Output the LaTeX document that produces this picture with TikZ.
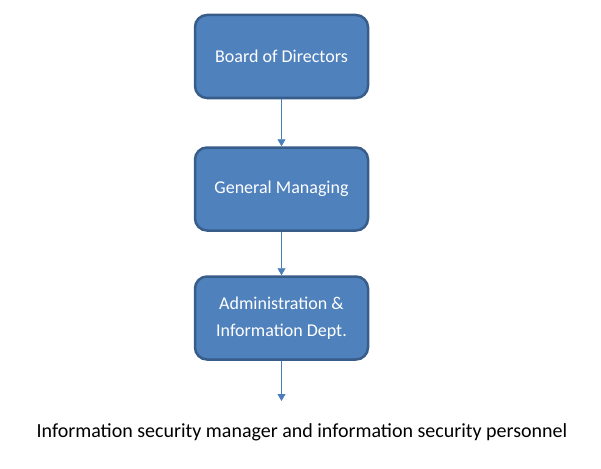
\documentclass[tikz,border=0pt]{standalone}
\usepackage{fontspec}
\setmainfont{Carlito}
\usetikzlibrary{arrows.meta}
\definecolor{boxfill}{HTML}{4F81BD}
\definecolor{boxline}{HTML}{385D8A}
\definecolor{arrowc}{HTML}{4A7EBB}
\tikzset{
  orgbox/.style={draw=boxline, line width=2.5pt, fill=boxfill, rounded corners=12pt,
    minimum width=173pt, minimum height=83pt, text=white, font=\fontsize{18pt}{27pt}\selectfont,
    align=center, inner sep=0pt},
  conn/.style={draw=arrowc, line width=0.8pt, -{Triangle[width=8pt,length=7pt]}}
}
\begin{document}
\begin{tikzpicture}[x=1pt,y=-1pt]
\useasboundingbox (0,0) rectangle (601,468);
\fill[white] (0,0) rectangle (601,468);
\node[orgbox] (b) at (281.5,56.5) {Board of Directors};
\node[orgbox] (g) at (281.5,189) {General Managing};
\node[orgbox] (a) at (281.5,318) {Administration \&\\Information Dept.};
\node[font=\fontsize{20pt}{24pt}\selectfont, inner sep=0pt] (p) at (302,432) {Information security manager and information security personnel};
\coordinate (e) at (281.5,401);
\draw[conn] (b.south) -- (g.north);
\draw[conn] (g.south) -- (a.north);
\draw[conn] (a.south) -- (e);
\end{tikzpicture}
\end{document}
